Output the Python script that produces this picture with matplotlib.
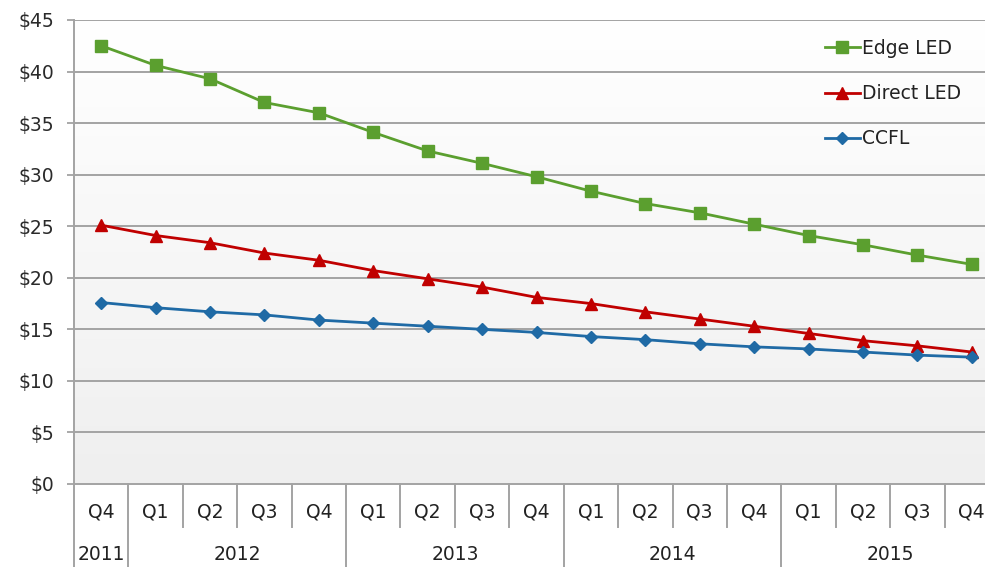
import numpy as np
import matplotlib
matplotlib.use("Agg")
import matplotlib.pyplot as plt
import matplotlib.transforms as mtransforms

quarters = ["Q4", "Q1", "Q2", "Q3", "Q4", "Q1", "Q2", "Q3", "Q4",
            "Q1", "Q2", "Q3", "Q4", "Q1", "Q2", "Q3", "Q4"]
years = ["2011", "2012", "2013", "2014", "2015"]
year_counts = [1, 4, 4, 4, 4]

edge_led = [42.5, 40.6, 39.3, 37.0, 36.0, 34.1, 32.3, 31.1, 29.8,
            28.4, 27.2, 26.3, 25.2, 24.1, 23.2, 22.2, 21.3]
direct_led = [25.1, 24.1, 23.4, 22.4, 21.7, 20.7, 19.9, 19.1, 18.1,
              17.5, 16.7, 16.0, 15.3, 14.6, 13.9, 13.4, 12.8]
ccfl = [17.6, 17.1, 16.7, 16.4, 15.9, 15.6, 15.3, 15.0, 14.7,
        14.3, 14.0, 13.6, 13.3, 13.1, 12.8, 12.5, 12.3]

yticks = [0, 5, 10, 15, 20, 25, 30, 35, 40, 45]

plt.rcParams['font.family'] = ['DejaVu Sans']
FS = 13.5
W, H = 985, 567
fig = plt.figure(figsize=(W / 100, H / 100), dpi=100)
left, right, top, bottom = 74, 999, 20, 484
ax = fig.add_axes([left / W, (H - bottom) / H, (right - left) / W, (bottom - top) / H])

n = len(quarters)
x = np.arange(n)
ax.set_xlim(-0.5, n - 0.5)
ax.set_ylim(0, 45)

# gradient background
grad = np.linspace(1.0, 0.0, 256).reshape(-1, 1)
c_top = np.array([1.0, 1.0, 1.0])
c_bot = np.array([0xef, 0xef, 0xef]) / 255
img = c_bot + (c_top - c_bot) * grad[..., None]
img = img.reshape(256, 1, 3)
ax.imshow(img, extent=[-0.5, n - 0.5, 0, 45], aspect='auto', zorder=0, origin='upper')

grid_c = '#a3a3a3'
for yv in yticks[1:]:
    ax.axhline(yv, color=grid_c, lw=1.4, zorder=1)

ax.plot(x, edge_led, color='#5b9f2f', lw=2.0, marker='s', ms=8.5, label='Edge LED', zorder=3)
ax.plot(x, direct_led, color='#c00000', lw=2.0, marker='^', ms=9, label='Direct LED', zorder=3)
ax.plot(x, ccfl, color='#1f6aa5', lw=2.0, marker='D', ms=6.5, label='CCFL', zorder=3)

for s in ['top', 'right']:
    ax.spines[s].set_visible(False)
ax.spines['left'].set_color(grid_c)
ax.spines['left'].set_linewidth(1.4)
ax.spines['bottom'].set_color(grid_c)
ax.spines['bottom'].set_linewidth(1.4)

ax.set_yticks(yticks)
ax.set_yticklabels([f"${v}" for v in yticks], fontsize=FS, color='#2a2a2a')
ax.tick_params(axis='y', length=5, width=1.3, color=grid_c, pad=9)
ax.set_xticks([])

# two-level category axis
trans = mtransforms.blended_transform_factory(ax.transData, ax.transAxes)
ax_h = bottom - top
def ay(px):
    return -px / ax_h

for i, q in enumerate(quarters):
    ax.text(i, ay(28), q, transform=trans, ha='center', va='center', fontsize=FS, color='#222222')

year_bounds = np.cumsum([0] + year_counts)
for yi, yr in enumerate(years):
    c = (year_bounds[yi] + year_bounds[yi + 1] - 1) / 2
    ax.text(c, ay(71), yr, transform=trans, ha='center', va='center', fontsize=FS, color='#222222')

long_bounds = set(year_bounds[1:-1])
for b in range(1, n):
    xb = b - 0.5
    depth = 95 if b in long_bounds else 43
    ax.plot([xb, xb], [0, ay(depth)], transform=trans, color=grid_c, lw=1.4, clip_on=False, zorder=1)
ax.plot([-0.5, -0.5], [0, ay(95)], transform=trans, color=grid_c, lw=1.4, clip_on=False, zorder=1)

leg = ax.legend(loc='upper left', bbox_to_anchor=(825 / W, 1 - 39 / H), bbox_transform=fig.transFigure,
                frameon=False, fontsize=FS, handlelength=1.85, handletextpad=0.1,
                labelspacing=1.4, borderaxespad=0, borderpad=0)
for t in leg.get_texts():
    t.set_color('#222222')

fig.savefig('out.png', dpi=100)
